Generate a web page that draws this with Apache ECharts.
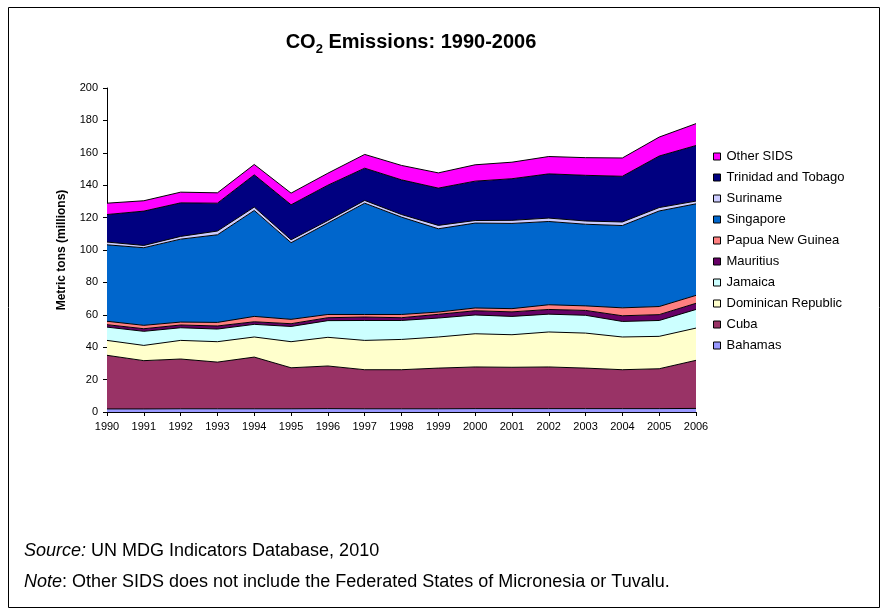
<!DOCTYPE html>
<html>
<head>
<meta charset="utf-8">
<script src="https://cdn.jsdelivr.net/npm/echarts@6/dist/echarts.min.js"></script>
<style>
html,body{margin:0;padding:0;background:#fff;}
#chart{width:888px;height:616px;}
</style>
</head>
<body>
<div id="chart"></div>
<script>
const years = ['1990','1991','1992','1993','1994','1995','1996','1997','1998','1999','2000','2001','2002','2003','2004','2005','2006'];
const yTicks = [0,20,40,60,80,100,120,140,160,180,200];

const bahamas   = [1.9,1.9,2.0,2.0,2.0,2.0,2.1,2.0,2.0,2.0,2.1,2.1,2.1,2.1,2.1,2.1,2.2];
const cuba      = [33.1,29.8,30.7,28.8,31.9,25.3,26.3,24.1,24.1,25.1,25.7,25.5,25.7,25.0,24.0,24.6,29.7];
const domRep    = [9.2,9.4,11.5,12.6,12.4,16.1,17.7,18.1,18.7,19.2,20.5,20.1,21.6,21.6,20.2,20.0,19.9];
const jamaica   = [8.2,8.7,7.8,7.8,7.8,9.4,10.3,12.3,11.7,11.7,11.6,11.3,11.0,11.0,9.6,9.8,11.5];
const mauritius = [1.5,1.6,1.7,1.9,1.6,1.7,1.8,2.1,1.7,2.3,2.6,2.8,2.9,3.0,3.5,3.6,3.8];
const png       = [2.1,2.1,1.8,2.2,3.3,2.7,2.0,1.6,2.0,1.4,1.7,2.0,2.9,2.8,4.9,5.0,4.9];
const singapore = [47.2,47.9,51.2,54.1,65.4,47.3,56.4,68.7,60.1,51.4,52.4,52.6,51.4,50.4,50.8,59.0,56.5];
const suriname  = [1.7,1.4,1.7,2.3,2.1,1.8,1.6,1.7,1.6,2.1,1.6,1.9,2.1,2.0,2.2,2.1,1.7];
const trinidad  = [17.0,21.2,20.7,17.2,19.9,21.6,21.8,19.9,21.4,23.0,24.3,25.7,27.3,28.2,28.2,31.8,34.3];
const otherSids = [7.0,6.4,6.6,6.4,6.4,7.2,7.4,8.5,8.9,9.4,10.1,10.2,10.7,10.9,11.3,11.7,13.5];

const seriesNames  = ['Bahamas','Cuba','Dominican Republic','Jamaica','Mauritius','Papua New Guinea','Singapore','Suriname','Trinidad and Tobago','Other SIDS'];
const seriesData   = [bahamas,cuba,domRep,jamaica,mauritius,png,singapore,suriname,trinidad,otherSids];
const seriesColors = ['#9999FF','#993366','#FFFFCC','#CCFFFF','#660066','#FF8080','#0066CC','#CCCCFF','#000080','#FF00FF'];

const FONT = 'Liberation Sans, Arial, sans-serif';

const chart = echarts.init(document.getElementById('chart'), null, {renderer:'canvas'});

const series = seriesNames.map((n,i)=>({
  name:n,
  type:'line',
  stack:'total',
  data:seriesData[i],
  symbol:'none',
  smooth:false,
  itemStyle:{color:seriesColors[i], borderColor:'#000', borderWidth:1},
  lineStyle:{color:'#000', width:1},
  areaStyle:{color:seriesColors[i], opacity:1},
  emphasis:{disabled:true},
  z:2
}));

chart.setOption({
  animation:false,
  backgroundColor:'#fff',
  textStyle:{fontFamily:FONT},
  title:{
    text:'{a|CO}{s|2}{a| Emissions: 1990-2006}',
    left:406, top:23, textAlign:'center',
    textStyle:{
      rich:{
        a:{fontSize:20,fontWeight:'bold',fontFamily:FONT,color:'#000',lineHeight:24,verticalAlign:'bottom'},
        s:{fontSize:13,fontWeight:'bold',fontFamily:FONT,color:'#000',lineHeight:24,verticalAlign:'bottom',padding:[0,0,-4,0]}
      }
    }
  },
  grid:{left:107, right:192, top:88, bottom:204, containLabel:false},
  legend:{
    orient:'vertical',
    left:708, top:145,
    data:seriesNames.slice().reverse(),
    icon:'rect',
    itemWidth:7, itemHeight:7,
    itemGap:8,
    itemStyle:{borderColor:'#000', borderWidth:1},
    textStyle:{fontFamily:FONT, fontSize:13, color:'#000', lineHeight:13, padding:[0,0,0,1]},
    selectedMode:false
  },
  xAxis:{
    type:'category',
    data:years,
    boundaryGap:false,
    axisLine:{lineStyle:{color:'#000', width:1}},
    axisTick:{show:true, length:4, lineStyle:{color:'#000'}, alignWithLabel:true},
    axisLabel:{color:'#000', fontSize:11, fontFamily:FONT, margin:9, interval:0},
    splitLine:{show:false}
  },
  yAxis:{
    type:'value',
    min:0, max:200, interval:20,
    name:'Metric tons (millions)',
    nameLocation:'middle',
    nameGap:39,
    nameRotate:90,
    nameTextStyle:{fontSize:12, fontWeight:'bold', color:'#000', fontFamily:FONT},
    axisLine:{show:true, lineStyle:{color:'#000', width:1}},
    axisTick:{show:true, length:4, lineStyle:{color:'#000'}},
    axisLabel:{color:'#000', fontSize:11, fontFamily:FONT, margin:9,
      formatter:(v)=> yTicks.includes(v) ? String(v) : ''},
    splitLine:{show:false}
  },
  graphic:[
    {type:'rect', shape:{x:8.5,y:7.5,width:871,height:600}, style:{fill:'none', stroke:'#000', lineWidth:1}, z:-1},
    {type:'text', left:24, top:542, style:{
      text:'{i|Source:} UN MDG Indicators Database, 2010',
      font:'18px '+FONT, fill:'#000',
      rich:{i:{fontStyle:'italic', fontSize:18, fontFamily:FONT}}
    }},
    {type:'text', left:24, top:573, style:{
      text:'{i|Note}: Other SIDS does not include the Federated States of Micronesia or Tuvalu.',
      font:'18px '+FONT, fill:'#000',
      rich:{i:{fontStyle:'italic', fontSize:18, fontFamily:FONT}}
    }}
  ],
  series:series
});
</script>
</body>
</html>
